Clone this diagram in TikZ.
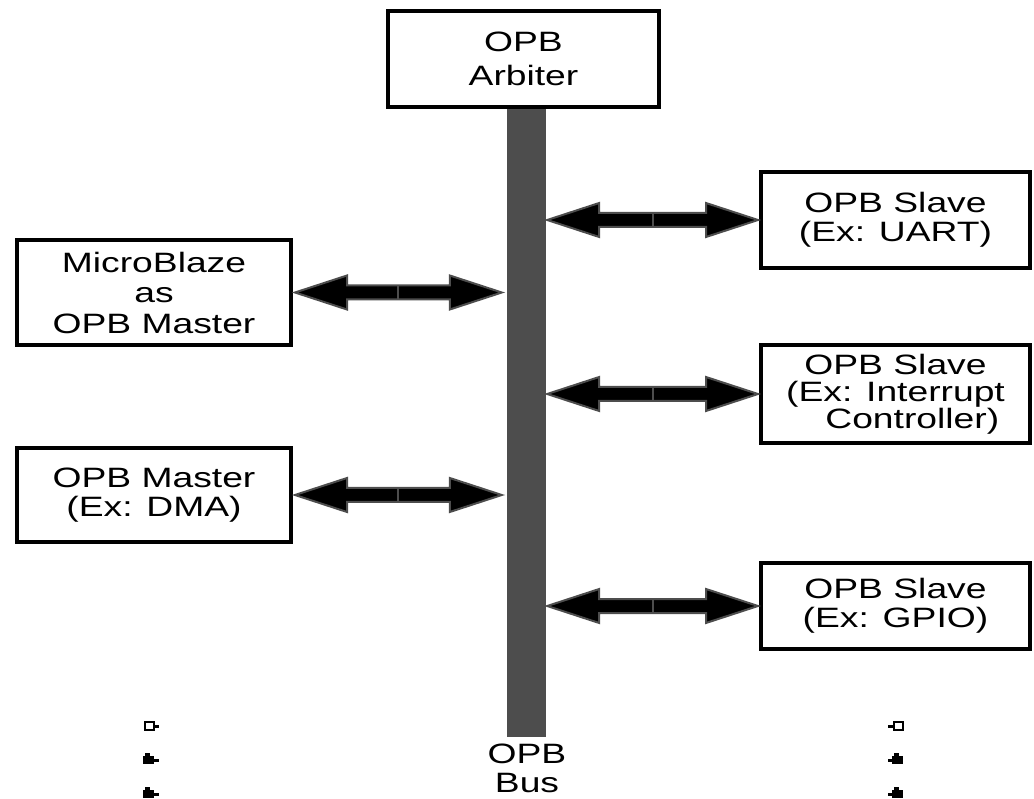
\documentclass[tikz,border=0pt]{standalone}
\usepackage{fontspec}
\setmainfont{Liberation Sans}[FakeStretch=1.33]
\usetikzlibrary{calc}
\definecolor{busgray}{RGB}{77,77,77}
\newcommand\busdblarrow[2]{%
  \path[fill=black,draw=busgray,line width=2pt,line join=miter]
    let \p1=(#1), \p2=(#2) in
    (\x1,\y1) -- (\x1+52pt,\y1+17pt) -- (\x1+52pt,\y1+7pt) --
    (\x2-52pt,\y1+7pt) -- (\x2-52pt,\y1+17pt) -- (\x2,\y1) --
    (\x2-52pt,\y1-17pt) -- (\x2-52pt,\y1-7pt) -- (\x1+52pt,\y1-7pt) --
    (\x1+52pt,\y1-17pt) -- cycle;
  \draw[busgray,line width=2pt]
    let \p1=(#1), \p2=(#2) in
    ({(\x1+\x2)/2},\y1+7pt) -- ({(\x1+\x2)/2},\y1-7pt);
}
\tikzset{
  box/.style={draw, line width=4pt, align=center, inner sep=0pt,
    font=\fontsize{28}{29}\selectfont},
  buslabel/.style={align=center, inner sep=0pt,
    font=\fontsize{28}{29}\selectfont},
}
\begin{document}
\begin{tikzpicture}[x=1pt,y=-1pt]
\useasboundingbox (0,0) rectangle (1034,799);
% bus
\node[fill=busgray, minimum width=39pt, minimum height=630pt, inner sep=0pt] (bus) at (526.5,422) {};
% arbiter
\node[box, minimum width=271pt, minimum height=96pt, font=\fontsize{28}{34}\selectfont] (arb) at (523.5,59) {OPB\\Arbiter};
% masters
\node[box, minimum width=274pt, minimum height=105pt, font=\fontsize{28}{30.5}\selectfont] (mb) at (154,292.5) {MicroBlaze\\as\\OPB Master};
\node[box, minimum width=274pt, minimum height=94pt] (dma) at (154,495) {OPB Master\\(Ex: DMA)};
% slaves
\node[box, minimum width=269pt, minimum height=96pt] (uart) at (895.5,220) {OPB Slave\\(Ex: UART)};
\node[box, minimum width=269pt, minimum height=98pt, font=\fontsize{28}{27}\selectfont] (intr) at (895.5,394) {OPB Slave\\(Ex: Interrupt\\\hspace*{1.2em}Controller)};
\node[box, minimum width=269pt, minimum height=86pt] (gpio) at (895.5,606) {OPB Slave\\(Ex: GPIO)};
% bus label
\node[buslabel] (buslbl) at (527,768) {OPB\\Bus};
% arrows
\busdblarrow{$(mb.east)+(2,0)$}{$(bus.west |- mb.east)+(-5,0)$}
\busdblarrow{$(dma.east)+(2,0)$}{$(bus.west |- dma.east)+(-5,0)$}
\busdblarrow{$(bus.east |- uart.west)+(1,0)$}{$(uart.west)+(-1,0)$}
\busdblarrow{$(bus.east |- intr.west)+(1,0)$}{$(intr.west)+(-1,0)$}
\busdblarrow{$(bus.east |- gpio.west)+(1,0)$}{$(gpio.west)+(-1,0)$}
% continuation marks, left
\draw[line width=2.5pt] (145,722) rectangle (154,730);
\fill (154,725) rectangle (159,728);
\foreach \yy in {759,793} {
  \fill (145,\yy-6) rectangle (150,\yy-3);
  \fill (143,\yy-3) rectangle (154,\yy+5);
  \fill (154,\yy) rectangle (159,\yy+3);
}
% continuation marks, right
\draw[line width=2.5pt] (894,722) rectangle (903,730);
\fill (888,725) rectangle (894,728);
\foreach \yy in {759,793} {
  \fill (894,\yy-6) rectangle (899,\yy-3);
  \fill (892,\yy-3) rectangle (903,\yy+5);
  \fill (888,\yy) rectangle (892,\yy+3);
}
\end{tikzpicture}
\end{document}
